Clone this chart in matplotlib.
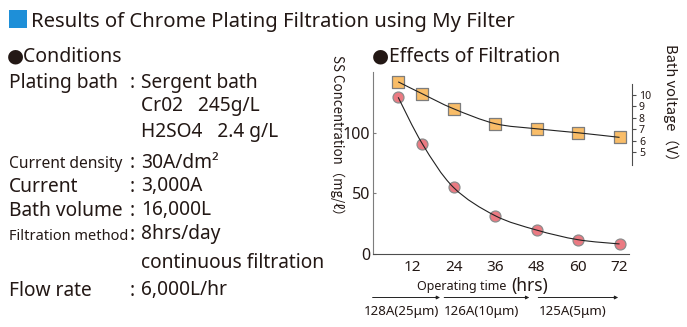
import matplotlib
matplotlib.use("Agg")
import matplotlib.pyplot as plt
import numpy as np
from matplotlib.path import Path
from matplotlib.patches import PathPatch, Rectangle
import matplotlib.transforms as mtransforms

# ---------------- data ----------------
hours_ss = [8, 15, 24, 36, 48, 60, 72]
ss_conc = [129.5, 91, 55, 31.7, 19.8, 11.8, 8.3]
hours_v = [8, 15, 24, 36, 48, 60, 72]
bath_voltage = [11.15, 10.1, 8.8, 7.5, 7.05, 6.7, 6.3]
x_ticks = [12, 24, 36, 48, 60, 72]
y_ticks = [0, 50, 100]
v_ticks = [5, 6, 7, 8, 9, 10]
filter_periods = [(0.6, 20.1), (21.3, 45.9), (48.5, 71.6)]
filter_labels = ["128A(25μm)", "126A(10μm)", "125A(5μm)"]

W, H = 687, 327
fig = plt.figure(figsize=(W / 100, H / 100), dpi=100)
fig.patch.set_facecolor("white")

MAIN = ["Noto Sans", "DejaVu Sans"]
plt.rcParams["font.family"] = MAIN
TXT = "#231815"


def px(x, y):
    return x / W, 1 - y / H


# ---------------- left text block ----------------
fig.patches.append(Rectangle(px(9, 28.3), 18 / W, 18.6 / H, transform=fig.transFigure,
                             facecolor="#1E8FD8", edgecolor="none"))
fig.text(*px(31, 27.5), "Results of Chrome Plating Filtration using My Filter",
         fontsize=14.6, color=TXT, va="baseline", ha="left")
fig.text(*px(7, 61), "●Conditions", fontsize=14, color=TXT, va="baseline")

rows = [
    ("Plating bath", "Sergent bath", 88, 13.8),
    ("", "Cr02   245g/L", 111.5, 13.8),
    ("", "H2SO4   2.4 g/L", 137, 13.8),
    ("Current density", "30A/dm²", 167.5, 11.2),
    ("Current", "3,000A", 191.5, 13.8),
    ("Bath volume", "16,000L", 215.5, 13.8),
    ("Filtration method", "8hrs/day", 239.5, 10.5),
    ("", "continuous filtration", 268, 13.8),
    ("Flow rate", "6,000L/hr", 295.5, 13.8),
]
for lab, val, yb, lsize in rows:
    if lab:
        fig.text(*px(9, yb), lab, fontsize=lsize, color=TXT, va="baseline")
        fig.text(*px(130, yb), ":", fontsize=13.8, color=TXT, va="baseline")
    fig.text(*px(141, yb), val, fontsize=13.8, color=TXT, va="baseline")

# ---------------- chart ----------------
fig.text(*px(372, 61), "●Effects of Filtration", fontsize=14, color=TXT, va="baseline")

left, right, top, bottom = 373, 632, 72, 254
ax = fig.add_axes([left / W, 1 - bottom / H, (right - left) / W, (bottom - top) / H])
ax.set_facecolor("none")
ax.set_xlim(0.72, 75.6)
ax.set_ylim(0, 150.4)
for s in ["top", "right"]:
    ax.spines[s].set_visible(False)
ax.spines["left"].set_color("#7d7d7d")
ax.spines["bottom"].set_color("#4d4d4d")
ax.spines["bottom"].set_bounds(0.72, 74.7)
ax.set_xticks(x_ticks)
ax.set_yticks(y_ticks)
ax.tick_params(axis="x", length=0, pad=4, labelsize=11, labelcolor=TXT)
ax.tick_params(axis="y", direction="in", length=2.5, pad=2, labelsize=11.5, labelcolor=TXT,
               color="#7d7d7d")

ax2 = ax.twinx()
ax2.set_ylim(-3.89, 12.01)
for s in ["top", "left", "bottom"]:
    ax2.spines[s].set_visible(False)
ax2.spines["right"].set_color("#4d4d4d")
ax2.spines["right"].set_bounds(3.9, 11.0)
ax2.set_yticks(v_ticks)
ax2.tick_params(axis="y", direction="out", length=3, pad=2, labelsize=7.6, labelcolor=TXT,
                color="#4d4d4d")


def smooth_path(xs, ys):
    xs = np.asarray(xs, float)
    ys = np.asarray(ys, float)
    verts = [(xs[0], ys[0])]
    codes = [Path.MOVETO]
    n = len(xs)
    for i in range(n - 1):
        x0, y0 = (xs[i - 1], ys[i - 1]) if i > 0 else (xs[i], ys[i])
        x1, y1 = xs[i], ys[i]
        x2, y2 = xs[i + 1], ys[i + 1]
        x3, y3 = (xs[i + 2], ys[i + 2]) if i + 2 < n else (x2, y2)
        c1 = (x1 + (x2 - x0) / 6, y1 + (y2 - y0) / 6)
        c2 = (x2 - (x3 - x1) / 6, y2 - (y3 - y1) / 6)
        verts += [c1, c2, (x2, y2)]
        codes += [Path.CURVE4] * 3
    return Path(verts, codes)


ax.scatter(hours_ss, ss_conc, s=62, marker="o", facecolor="#EB7A82", edgecolor="#8c8c8c",
           linewidth=0.9, zorder=3, clip_on=False)
ax.add_patch(PathPatch(smooth_path(hours_ss, ss_conc), facecolor="none", edgecolor="#222222",
                       linewidth=0.8, zorder=4, clip_on=False))
ax2.scatter(hours_v, bath_voltage, s=64, marker="s", facecolor="#F9BD68", edgecolor="#7d7d7d",
            linewidth=0.9, zorder=3, clip_on=False)
ax2.add_patch(PathPatch(smooth_path(hours_v, bath_voltage), facecolor="none", edgecolor="#222222",
                        linewidth=0.8, zorder=4, clip_on=False))

# axis titles
fig.text(*px(337, 55), "SS Concentration（mg/ℓ）", rotation=-90, fontsize=9.6,
         family=["Noto Sans CJK JP", "DejaVu Sans"], color=TXT, ha="center", va="top")
fig.text(*px(671, 44), "Bath voltage（V）", rotation=-90, fontsize=10.5,
         family=["Noto Sans CJK JP", "DejaVu Sans"], color=TXT, ha="center", va="top")

fig.text(*px(417, 290), "Operating time", fontsize=9.0, color=TXT, va="baseline")
fig.text(*px(511, 291), "(hrs)", fontsize=12.5, color=TXT, va="baseline")

# filter periods
btrans = mtransforms.blended_transform_factory(ax.transData, fig.transFigure)
ya = 1 - 297.5 / H
for (a, b), lab in zip(filter_periods, filter_labels):
    ax.annotate("", xy=(b, ya), xytext=(a, ya), xycoords=btrans, textcoords=btrans,
                arrowprops=dict(arrowstyle="-|>", color="#222222", lw=0.7,
                                mutation_scale=5, shrinkA=0, shrinkB=0),
                annotation_clip=False)
    ax.text((a + b) / 2 - 1.5, 1 - 311.5 / H, lab, transform=btrans, fontsize=9.6, color=TXT,
            ha="center", va="center", family=["Noto Sans", "DejaVu Sans"])

fig.savefig("out.png", dpi=100, facecolor="white")
